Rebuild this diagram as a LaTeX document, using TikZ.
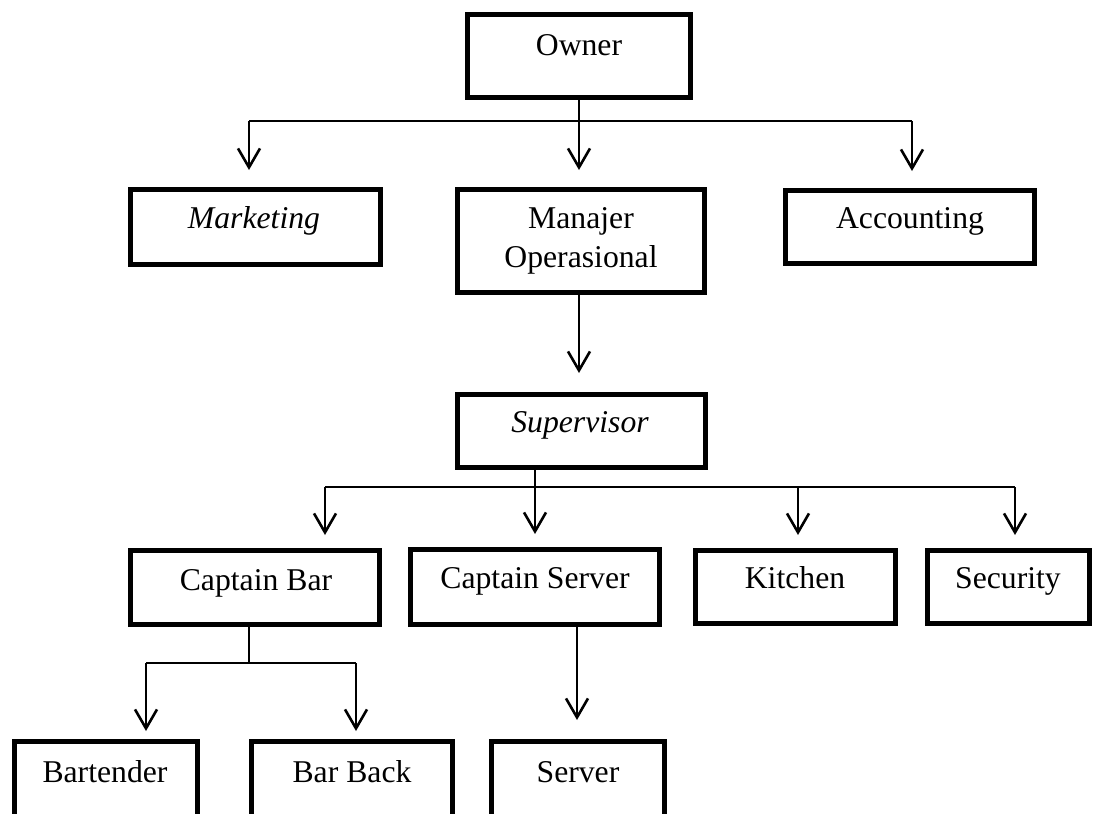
\documentclass[tikz,border=0pt]{standalone}
\usepackage{fontspec}
\setmainfont{Liberation Serif}
\usetikzlibrary{arrows.meta}
\tikzset{
  box/.style={draw=black, line width=5pt, rectangle, inner sep=0pt, fill=white},
  lbl/.style={anchor=base, inner sep=0pt, font=\fontsize{31.7}{38}\selectfont},
  conn/.style={line width=2.4pt, draw=black},
  arr/.style={conn, -{Straight Barb[length=19pt,width=22pt,line width=2.6pt]}},
}
\newcommand{\boxnode}[6]{\node[box, minimum width=#4pt-5pt, minimum height=#5pt-5pt] (#1) at (#2,#3) {};}
\begin{document}
\begin{tikzpicture}[x=1pt,y=-1pt]
\clip (0,0) rectangle (1093,814);
\fill[white] (0,0) rectangle (1093,814);
% boxes
\boxnode{owner}{579}{56}{228}{88}{}
\boxnode{mkt}{255.5}{227}{255}{80}{}
\boxnode{mgr}{581}{241}{252}{108}{}
\boxnode{acc}{910}{227}{254}{78}{}
\boxnode{sup}{581.5}{431}{253}{78}{}
\boxnode{cbar}{255}{587.5}{254}{79}{}
\boxnode{cserv}{535}{587}{254}{80}{}
\boxnode{kit}{795.5}{587}{205}{78}{}
\boxnode{sec}{1008.5}{587}{167}{78}{}
\boxnode{bart}{106}{789.5}{188}{101}{}
\boxnode{bback}{352}{789.5}{206}{101}{}
\boxnode{serv}{578}{789.5}{178}{101}{}
% labels
\node[lbl] (owner-t) at (579,55) {Owner};
\node[lbl] (mkt-t) at (254,228) {\itshape Marketing};
\node[lbl] (mgr-t1) at (581,228) {Manajer};
\node[lbl] (mgr-t2) at (581,267) {Operasional};
\node[lbl] (acc-t) at (910,228) {Accounting};
\node[lbl] (sup-t) at (580,432) {\itshape Supervisor};
\node[lbl] (cbar-t) at (256,590) {Captain Bar};
\node[lbl] (cserv-t) at (535,588) {Captain Server};
\node[lbl] (kit-t) at (795,588) {Kitchen};
\node[lbl] (sec-t) at (1008,588) {Security};
\node[lbl] (bart-t) at (105,782) {Bartender};
\node[lbl] (bback-t) at (352,782) {Bar Back};
\node[lbl] (serv-t) at (578,782) {Server};
% level 1 connectors
\coordinate (tl) at (249,121);
\coordinate (tr) at (912,121);
\draw[conn] (tl) -- (tr);
\draw[arr, shorten >=17pt] (owner.south) -- (owner.south |- mgr.north);
\draw[arr, shorten >=17pt] (tl) -- (tl |- mkt.north);
\draw[arr, shorten >=17pt] (tr) -- (tr |- acc.north);
\draw[arr, shorten >=19pt] (owner.south |- mgr.south) -- (owner.south |- sup.north);
% level 2 connectors
\coordinate (sl) at (325,487);
\coordinate (sr) at (1015,487);
\coordinate (sk) at (798,487);
\draw[conn] (sl) -- (sr);
\draw[arr, shorten >=13pt] (sup.south -| cserv.north) -- (cserv.north);
\draw[arr, shorten >=13pt] (sl) -- (sl |- cbar.north);
\draw[arr, shorten >=13pt] (sk) -- (sk |- kit.north);
\draw[arr, shorten >=13pt] (sr) -- (sr |- sec.north);
% level 3 connectors
\coordinate (cb) at (249,663);
\coordinate (bl) at (146,663);
\coordinate (br) at (356,663);
\draw[conn] (cb |- cbar.south) -- (cb);
\draw[conn] (bl) -- (br);
\draw[arr, shorten >=8pt] (bl) -- (bl |- bart.north);
\draw[arr, shorten >=8pt] (br) -- (br |- bback.north);
\draw[arr, shorten >=19pt] (cserv.south -| 577,0) -- (serv.north -| 577,0);
\end{tikzpicture}
\end{document}
